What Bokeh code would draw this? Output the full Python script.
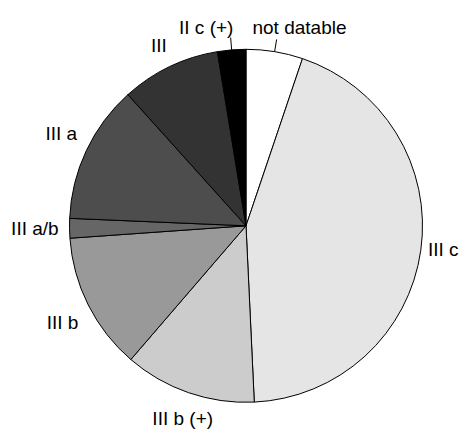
import numpy as np
from bokeh.plotting import figure
from bokeh.models import Range1d, ColumnDataSource
from bokeh.core.properties import value
from bokeh.embed import file_html
from bokeh.resources import INLINE

# Data (clockwise from 12 o'clock)
labels = ["not datable", "III c", "III b (+)", "III b", "III a/b", "III a", "III", "II c (+)"]
shares = [5.2, 44.2, 12.1, 12.6, 1.8, 12.7, 9.1, 2.6]
colors = ["#ffffff", "#e5e5e5", "#cccccc", "#999999", "#666666", "#4d4d4d", "#333333", "#000000"]
# small label nudges (px) relative to anchor at 1.1 r on the slice mid-angle
nudge_x = [22, 5, 0, -10, -17, -9, -3, -24]
nudge_y = [7, 3, -9, -10, 0, 10, 5, 5]
tick_labels = ["not datable", "II c (+)"]

W, H = 460, 430
cx, cy = 245.5, 225.3   # pie centre in figure pixels
R = 176.5

p = figure(width=W, height=H, output_backend="svg", toolbar_location=None,
           x_range=Range1d(-cx, W - cx), y_range=Range1d(cy - H, cy),
           x_axis_type=None, y_axis_type=None, min_border=0)
p.grid.visible = False
p.outline_line_color = None
p.background_fill_color = "white"
p.border_fill_color = "white"

vals = np.array(shares, dtype=float)
frac = vals / vals.sum() * 360.0
cum_end = np.cumsum(frac)
cum_start = cum_end - frac
mid = (cum_start + cum_end) / 2.0

src = ColumnDataSource(dict(
    start=np.deg2rad(90 - cum_end), end=np.deg2rad(90 - cum_start),
    color=colors, label=labels))
p.wedge(x=0, y=0, radius=R, start_angle="start", end_angle="end",
        direction="anticlock", fill_color="color", line_color="black", line_width=1,
        source=src)

rad = np.deg2rad(mid)
lx = 1.1 * R * np.sin(rad) + np.array(nudge_x)
ly = 1.1 * R * np.cos(rad) + np.array(nudge_y)
p.text(x=lx, y=ly, text=labels, text_align="center", text_baseline="middle",
       text_font=value("Liberation Sans"), text_font_size="19px", text_color="black")

for lab, m in zip(labels, rad):
    if lab in tick_labels:
        p.segment(x0=[R * np.sin(m)], y0=[R * np.cos(m)],
                  x1=[1.07 * R * np.sin(m)], y1=[1.07 * R * np.cos(m)],
                  line_color="black", line_width=1)

open("out.html", "w").write(file_html(p, INLINE))
